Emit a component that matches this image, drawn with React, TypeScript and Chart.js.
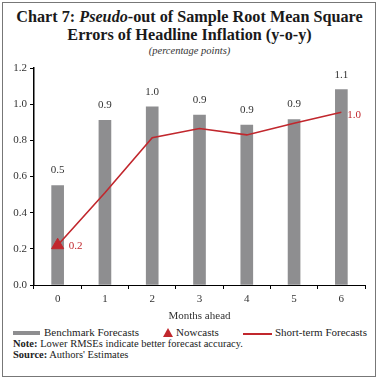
import React, { useEffect, useRef } from "react";
import { Chart, registerables } from "chart.js";
Chart.register(...registerables);

const categories = ["0", "1", "2", "3", "4", "5", "6"];
const benchmark = [0.55, 0.91, 0.985, 0.94, 0.885, 0.915, 1.08];
const benchmarkLabels = ["0.5", "0.9", "1.0", "0.9", "0.9", "0.9", "1.1"];
const nowcasts = [0.22, null, null, null, null, null, null];
const nowcastLabels = ["0.2", "", "", "", "", "", ""];
const shortTerm = [0.22, 0.51, 0.815, 0.865, 0.83, 0.895, 0.955];
const shortTermLabels = ["", "", "", "", "", "", "1.0"];
const yMin = 0;
const yMax = 1.2;
const yStep = 0.2;

const GREY = "#8e8e90";
const RED = "#c1272d";
const FONT = "'Liberation Serif', serif";

const labelPlugin = {
  id: "valueLabels",
  afterDatasetsDraw(chart: any) {
    const ctx = chart.ctx;
    ctx.save();
    ctx.font = `11px ${FONT}`;
    ctx.textBaseline = "middle";
    chart.data.datasets.forEach((ds: any, i: number) => {
      const meta = chart.getDatasetMeta(i);
      const labels: string[] = ds.valueLabels || [];
      meta.data.forEach((el: any, j: number) => {
        const t = labels[j];
        if (!t) return;
        if (ds.labelMode === "above") {
          ctx.fillStyle = "#333";
          ctx.textAlign = "center";
          ctx.fillText(t, el.x, el.y - 15);
        } else if (ds.labelMode === "right") {
          ctx.fillStyle = RED;
          ctx.textAlign = "left";
          ctx.fillText(t, el.x + ds.labelDx, el.y + ds.labelDy);
        }
      });
    });
    ctx.restore();
  },
};

export default function App() {
  const ref = useRef<HTMLCanvasElement>(null);
  useEffect(() => {
    const chart = new Chart(ref.current as HTMLCanvasElement, {
      type: "bar",
      data: {
        labels: categories,
        datasets: [
          {
            type: "line",
            label: "Nowcasts",
            data: nowcasts,
            showLine: false,
            pointStyle: "triangle",
            pointRadius: 7,
            pointBackgroundColor: RED,
            pointBorderColor: RED,
            order: 1,
            valueLabels: nowcastLabels,
            labelMode: "right",
            labelDx: 11,
            labelDy: 1,
          } as any,
          {
            type: "line",
            label: "Short-term Forecasts",
            data: shortTerm,
            borderColor: RED,
            borderWidth: 1.6,
            pointRadius: 0,
            tension: 0,
            order: 2,
            valueLabels: shortTermLabels,
            labelMode: "right",
            labelDx: 6,
            labelDy: 3,
          } as any,
          {
            type: "bar",
            label: "Benchmark Forecasts",
            data: benchmark,
            backgroundColor: GREY,
            barThickness: 12,
            order: 3,
            valueLabels: benchmarkLabels,
            labelMode: "above",
          } as any,
        ],
      },
      options: {
        animation: false,
        responsive: true,
        maintainAspectRatio: false,
        layout: { padding: { left: 0, right: 14, top: 10, bottom: 0 } },
        plugins: { legend: { display: false }, tooltip: { enabled: false } },
        scales: {
          x: {
            offset: true,
            grid: {
              offset: true,
              drawOnChartArea: false,
              drawTicks: true,
              tickLength: 4,
              color: "#000",
            },
            border: { color: "#000", width: 1 },
            ticks: { color: "#333", font: { family: FONT, size: 11 }, padding: 4 },
            title: {
              display: true,
              text: "Months ahead",
              color: "#333",
              font: { family: FONT, size: 11 },
              padding: { top: 4, bottom: 0 },
            },
            afterFit: (s: any) => {
              s.height = 38;
            },
          },
          y: {
            min: yMin,
            max: yMax,
            grid: {
              drawOnChartArea: false,
              drawTicks: true,
              tickLength: 4,
              color: "#000",
            },
            border: { color: "#000", width: 1.5 },
            ticks: {
              stepSize: yStep,
              color: "#333",
              font: { family: FONT, size: 11 },
              padding: 3,
              callback: (v: any) => Number(v).toFixed(1),
            },
            afterFit: (s: any) => {
              s.width = 34;
            },
          },
        },
      } as any,
      plugins: [labelPlugin],
    });
    return () => chart.destroy();
  }, []);

  const text = { fontFamily: FONT, color: "#222", position: "absolute" as const, whiteSpace: "nowrap" as const };

  return (
    <div style={{ position: "absolute", left: 0, top: 0, width: 379, height: 380, background: "#fff", overflow: "hidden" }}>
      <div style={{ position: "absolute", left: 2, top: 2, width: 372, height: 373, border: "1px solid #777" }} />
      <div style={{ ...text, left: 0, width: 379, top: 8, textAlign: "center", fontSize: 16.2, fontWeight: 700, lineHeight: "18px", color: "#1a1a1a" }}>
        Chart 7: <i>Pseudo</i>-out of Sample Root Mean Square
        <br />
        Errors of Headline Inflation (y-o-y)
      </div>
      <div style={{ ...text, left: 0, width: 379, top: 45, textAlign: "center", fontSize: 10.5, fontStyle: "italic", color: "#333" }}>
        (percentage points)
      </div>
      <div style={{ position: "absolute", left: 0, top: 58, width: 379, height: 265 }}>
        <canvas ref={ref} />
      </div>
      <div style={{ position: "absolute", left: 13, top: 331, width: 27, height: 4, background: GREY }} />
      <div style={{ ...text, left: 44, top: 326, fontSize: 11 }}>Benchmark Forecasts</div>
      <div
        style={{
          position: "absolute",
          left: 163,
          top: 328,
          width: 0,
          height: 0,
          borderLeft: "5px solid transparent",
          borderRight: "5px solid transparent",
          borderBottom: "9px solid " + RED,
        }}
      />
      <div style={{ ...text, left: 176, top: 326, fontSize: 11 }}>Nowcasts</div>
      <div style={{ position: "absolute", left: 243, top: 333, width: 29, height: 1.5, background: RED }} />
      <div style={{ ...text, left: 275, top: 326, fontSize: 11 }}>Short-term Forecasts</div>
      <div style={{ ...text, left: 13, top: 338, fontSize: 10.5 }}>
        <b>Note:</b> Lower RMSEs indicate better forecast accuracy.
      </div>
      <div style={{ ...text, left: 13, top: 349, fontSize: 10.5 }}>
        <b>Source:</b> Authors' Estimates
      </div>
    </div>
  );
}
